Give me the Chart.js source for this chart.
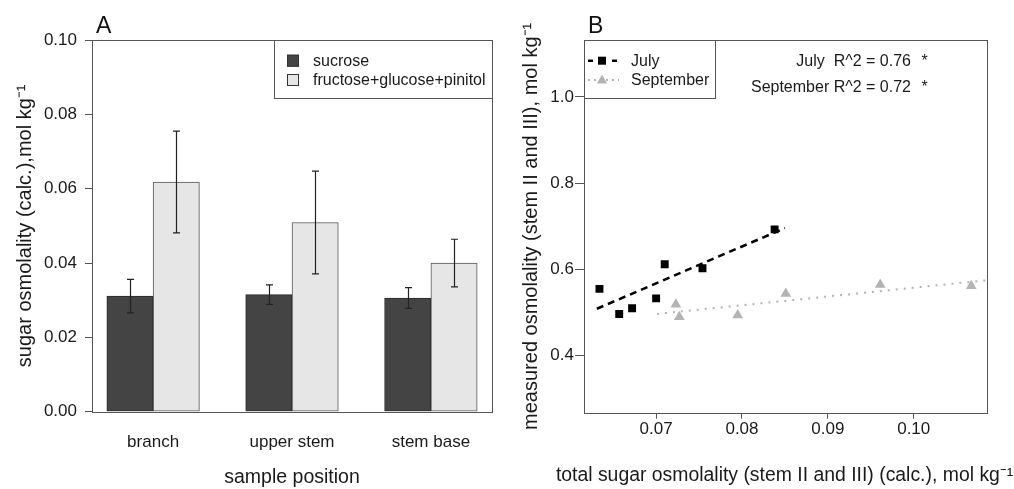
<!DOCTYPE html>
<html><head><meta charset="utf-8">
<script src="https://cdn.jsdelivr.net/npm/chart.js@4"></script>
<style>
html,body{margin:0;padding:0;background:#fff;}
#wrap{position:relative;width:1014px;height:489px;overflow:hidden;}
#cA{position:absolute;left:0;top:0;}
#cB{position:absolute;left:500px;top:0;}
</style></head><body>
<div id="wrap"><canvas id="cA" width="500" height="489"></canvas><canvas id="cB" width="514" height="489"></canvas></div>
<script>
// ---------- Panel A data ----------
const categories = ['branch', 'upper stem', 'stem base'];
const sucrose = [0.0311, 0.0315, 0.0306];
const sucroseErr = [0.0045, 0.0026, 0.0028];
const fgp = [0.0618, 0.0509, 0.0400];
const fgpErr = [0.0137, 0.0138, 0.0064];
const yTicksA = [0, 0.02, 0.04, 0.06, 0.08, 0.10];
const seriesNamesA = ['sucrose', 'fructose+glucose+pinitol'];

// ---------- Panel B data ----------
const julyX = [0.0634, 0.0657, 0.0672, 0.0700, 0.0710, 0.0754, 0.0838];
const julyY = [0.555, 0.497, 0.510, 0.533, 0.612, 0.603, 0.693];
const septX = [0.0723, 0.0727, 0.0795, 0.0851, 0.0961, 0.1067];
const septY = [0.519, 0.490, 0.494, 0.544, 0.565, 0.562];
const julyFitX = [0.0631, 0.0850];
const julyFitY = [0.509, 0.696];
const septFitX = [0.0701, 0.1085];
const septFitY = [0.497, 0.575];
const fitLabels = ['July', 'September'];
const r2Values = ['0.76', '0.72'];
const xTicksB = [0.07, 0.08, 0.09, 0.10];
const yTicksB = [0.4, 0.6, 0.8, 1.0];

const FONT = "'Liberation Sans', Arial, Helvetica, sans-serif";
const TXT = '#1a1a1a';
const BOXC = '#555';
const DARK = '#444444';
const LIGHT = '#e6e6e6';
const SEPT = '#b3b3b3';

Chart.defaults.font.family = FONT;
Chart.defaults.color = TXT;

function zip(xs, ys) { return xs.map((x, i) => ({x: x, y: ys[i]})); }
function setTicks(vals) { return s => { s.ticks = vals.map(v => ({value: v})); }; }
function boxPlugin() {
  return {
    id: 'box',
    afterDraw(chart) {
      const a = chart.chartArea, c = chart.ctx;
      c.save();
      c.strokeStyle = BOXC; c.lineWidth = 1;
      c.strokeRect(Math.round(a.left) + 0.5, Math.round(a.top) + 0.5,
        Math.round(a.right - a.left), Math.round(a.bottom - a.top));
      c.restore();
    }
  };
}
function letter(txt, x) {
  return {
    id: 'letter' + txt,
    afterDraw(chart) {
      const c = chart.ctx;
      c.save();
      c.font = '23px ' + FONT; c.fillStyle = '#111';
      c.textBaseline = 'alphabetic'; c.textAlign = 'left';
      c.fillText(txt, x, 33);
      c.restore();
    }
  };
}

// ---------- Chart A ----------
const errPlugin = {
  id: 'errbars',
  afterDatasetsDraw(chart) {
    const c = chart.ctx, xs = chart.scales.x, ys = chart.scales.y;
    c.save();
    c.strokeStyle = '#222'; c.lineWidth = 1.2;
    chart.data.datasets.forEach(ds => {
      ds.data.forEach((p, i) => {
        const e = ds.errors[i];
        const px = Math.round(xs.getPixelForValue(p.x)) + 0.5;
        const y1 = ys.getPixelForValue(p.y + e), y2 = ys.getPixelForValue(p.y - e);
        c.beginPath();
        c.moveTo(px, y1); c.lineTo(px, y2);
        c.moveTo(px - 3.5, y1); c.lineTo(px + 3.5, y1);
        c.moveTo(px - 3.5, y2); c.lineTo(px + 3.5, y2);
        c.stroke();
      });
    });
    c.restore();
  }
};
const legendA = {
  id: 'legendA',
  afterDraw(chart) {
    const c = chart.ctx;
    c.save();
    c.strokeStyle = BOXC; c.lineWidth = 1;
    c.strokeRect(274.5, 40.5, 218, 58);
    c.font = '16px ' + FONT; c.textBaseline = 'middle'; c.textAlign = 'left';
    const rows = [60.7, 80];
    chart.data.datasets.forEach((ds, i) => {
      c.fillStyle = ds.backgroundColor;
      c.fillRect(287, rows[i] - 6, 12, 12);
      c.strokeStyle = '#333';
      c.strokeRect(287.5, rows[i] - 5.5, 11, 11);
      c.fillStyle = TXT;
      c.fillText(ds.label, 313, rows[i] + 1);
    });
    c.restore();
  }
};

new Chart(document.getElementById('cA'), {
  type: 'bar',
  data: {
    datasets: [
      {label: seriesNamesA[0], data: sucrose.map((v, i) => ({x: 1.5 + 3 * i, y: v})), errors: sucroseErr,
       backgroundColor: DARK, borderColor: '#2a2a2a', borderWidth: 1, borderSkipped: false},
      {label: seriesNamesA[1], data: fgp.map((v, i) => ({x: 2.5 + 3 * i, y: v})), errors: fgpErr,
       backgroundColor: LIGHT, borderColor: '#555', borderWidth: 1, borderSkipped: false}
    ]
  },
  options: {
    responsive: false, animation: false, devicePixelRatio: 1,
    datasets: {bar: {grouped: false, barPercentage: 1, categoryPercentage: 1}},
    layout: {padding: {top: 40, right: 8, bottom: 0, left: 0}},
    plugins: {legend: {display: false}, tooltip: {enabled: false}},
    scales: {
      x: {
        type: 'linear', min: 0.68, max: 9.32, offset: false,
        afterBuildTicks: setTicks([2, 5, 8]),
        afterFit: s => { s.height = 77.3; },
        ticks: {callback: (v, i) => categories[i], font: {size: 17}, color: TXT, padding: 12, maxRotation: 0, autoSkip: false},
        grid: {display: false}, border: {display: false},
        title: {display: true, text: 'sample position', font: {size: 19.5}, color: TXT, padding: {top: 0, bottom: 0}}
      },
      y: {
        min: 0, max: 0.1,
        afterBuildTicks: setTicks(yTicksA),
        afterFit: s => { s.width = 92; },
        ticks: {callback: v => v.toFixed(2), font: {size: 17}, color: TXT, padding: 8},
        grid: {drawOnChartArea: false, drawTicks: true, tickLength: 7, color: BOXC},
        border: {display: false},
        title: {display: true, text: 'sugar osmolality (calc.),mol kg\u207B\u00B9', font: {size: 20}, color: TXT, padding: {top: 13, bottom: 0}}
      }
    }
  },
  plugins: [errPlugin, boxPlugin(), legendA, letter('A', 96)]
});

// ---------- Chart B ----------
const legendB = {
  id: 'legendB',
  afterDraw(chart) {
    const c = chart.ctx;
    c.save();
    c.strokeStyle = BOXC; c.lineWidth = 1;
    c.strokeRect(84.5, 40.5, 131, 58);
    const rows = [60.7, 80];
    // July sample
    c.strokeStyle = '#000'; c.lineWidth = 2.5;
    c.beginPath(); c.moveTo(88, rows[0]); c.lineTo(93, rows[0]); c.moveTo(112, rows[0]); c.lineTo(117, rows[0]); c.stroke();
    c.fillStyle = '#000'; c.fillRect(98, rows[0] - 4, 8, 8);
    // September sample
    c.strokeStyle = SEPT; c.lineWidth = 2; c.setLineDash([2, 4]);
    c.beginPath(); c.moveTo(88, rows[1]); c.lineTo(119, rows[1]); c.stroke();
    c.setLineDash([]);
    c.fillStyle = SEPT;
    c.beginPath(); c.moveTo(102, rows[1] - 5.5); c.lineTo(107, rows[1] + 3.5); c.lineTo(97, rows[1] + 3.5); c.closePath(); c.fill();
    c.font = '16px ' + FONT; c.textBaseline = 'middle'; c.textAlign = 'left'; c.fillStyle = TXT;
    c.fillText(fitLabels[0], 131, rows[0] + 1);
    c.fillText(fitLabels[1], 131, rows[1] + 1);
    // R^2 annotations
    const rr = [60.7, 86.7];
    c.textAlign = 'right';
    c.fillText(fitLabels[0] + '  R^2 = ' + r2Values[0], 411, rr[0] + 1);
    c.fillText(fitLabels[1] + ' R^2 = ' + r2Values[1], 411, rr[1] + 1);
    c.textAlign = 'center';
    c.fillText('*', 424.5, rr[0] + 1);
    c.fillText('*', 424.5, rr[1] + 1);
    c.restore();
  }
};
// x title of panel B is wider than the plot box, so it is drawn unsqueezed here
const xTitleB = {
  id: 'xTitleB',
  afterDraw(chart) {
    const t = chart.options.scales.x.title;
    const c = chart.ctx;
    c.save();
    c.font = '19.4px ' + FONT; c.fillStyle = TXT;
    c.textAlign = 'center'; c.textBaseline = 'middle';
    c.fillText(t.text, 284.6, 475.7);
    c.restore();
  }
};

new Chart(document.getElementById('cB'), {
  type: 'scatter',
  data: {
    datasets: [
      {label: 'July', data: zip(julyX, julyY), pointStyle: 'rect', pointRadius: 5.6,
       backgroundColor: '#000', borderColor: '#000', borderWidth: 0, showLine: false},
      {label: 'September', data: zip(septX, septY), pointStyle: 'triangle', pointRadius: 6.2,
       backgroundColor: SEPT, borderColor: SEPT, borderWidth: 0, showLine: false},
      {label: 'July fit', data: zip(julyFitX, julyFitY), showLine: true, pointRadius: 0,
       borderColor: '#000', borderWidth: 2.5, borderDash: [7, 5], fill: false},
      {label: 'September fit', data: zip(septFitX, septFitY), showLine: true, pointRadius: 0,
       borderColor: SEPT, borderWidth: 2, borderDash: [2, 6], fill: false}
    ]
  },
  options: {
    responsive: false, animation: false, devicePixelRatio: 1,
    layout: {padding: {top: 40, right: 27.3, bottom: 0, left: 0}},
    plugins: {legend: {display: false}, tooltip: {enabled: false}},
    scales: {
      x: {
        type: 'linear', min: 0.0616, max: 0.1085,
        afterBuildTicks: setTicks(xTicksB),
        afterFit: s => { s.height = 76.3; },
        ticks: {callback: v => v.toFixed(2), font: {size: 17}, color: TXT, padding: 0, maxRotation: 0, autoSkip: false},
        grid: {drawOnChartArea: false, drawTicks: true, tickLength: 6, color: BOXC},
        border: {display: false},
        title: {display: false, text: 'total sugar osmolality (stem II and III) (calc.), mol kg\u207B\u00B9'}
      },
      y: {
        min: 0.268, max: 1.132,
        afterBuildTicks: setTicks(yTicksB),
        afterFit: s => { s.width = 84; },
        ticks: {callback: v => v.toFixed(1), font: {size: 17}, color: TXT, padding: 1},
        grid: {drawOnChartArea: false, drawTicks: true, tickLength: 9, color: BOXC},
        border: {display: false},
        title: {display: true, text: 'measured osmolality (stem II and III), mol kg\u207B\u00B9', font: {size: 20}, color: TXT, padding: {top: 19.7, bottom: 0}}
      }
    }
  },
  plugins: [boxPlugin(), legendB, xTitleB, letter('B', 88)]
});
</script>
</body></html>
